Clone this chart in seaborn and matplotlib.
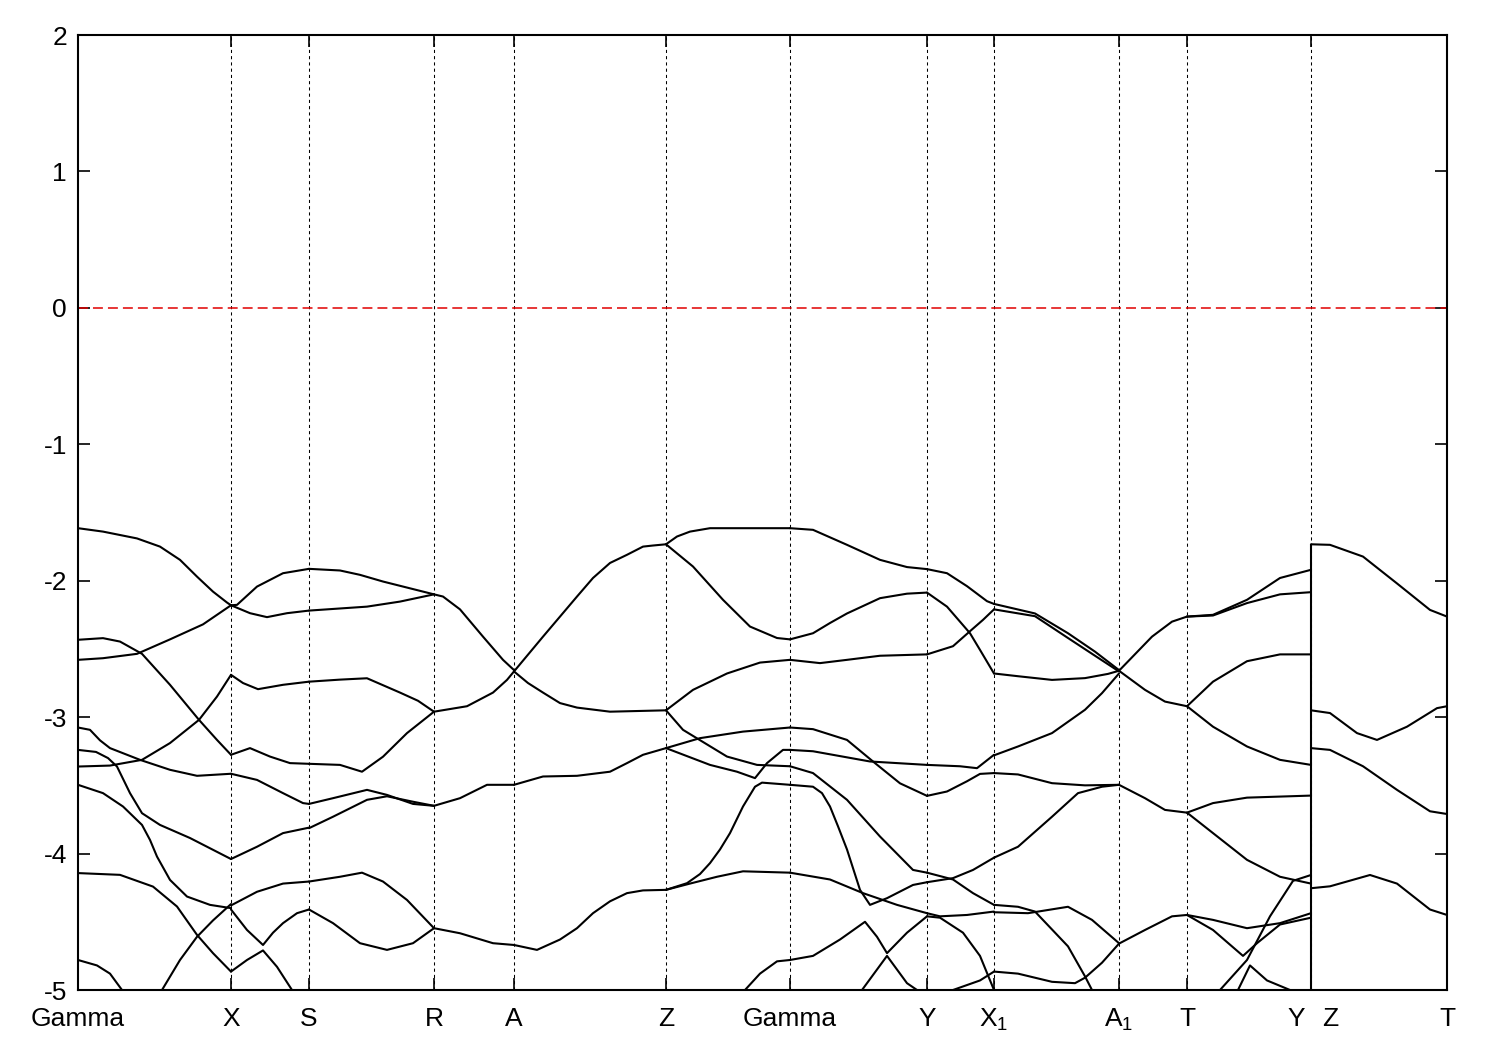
import matplotlib
matplotlib.use("Agg")
import matplotlib.pyplot as plt
import matplotlib.transforms as mtransforms
import seaborn as sns
import pandas as pd

# ---------------- data (k in path units, E in eV) ----------------
KPOS = [0, 1.53, 2.31, 3.56, 4.36, 5.88, 7.12, 8.49, 9.16, 10.41, 11.09, 12.33, 13.69]
KLABELS = ["Gamma", "X", "S", "R", "A", "Z", "Gamma", "Y", r"X$_\mathrm{1}$",
           r"A$_\mathrm{1}$", "T", "", "T"]
YZ_LABELS = ["Y", "Z"]
YTICKS = [-5, -4, -3, -2, -1, 0, 1, 2]
FERMI = 0.0
yz_jump = [-1.733, -5.0]

seg_GX = [
    ([0, 0.25, 0.59, 0.82, 1.02, 1.19, 1.35, 1.49, 1.53], [-1.615, -1.64, -1.69, -1.75, -1.847, -1.97, -2.08, -2.16, -2.18]),
    ([0, 0.25, 0.59, 0.92, 1.25, 1.49, 1.53], [-2.58, -2.568, -2.536, -2.43, -2.32, -2.20, -2.18]),
    ([0, 0.25, 0.42, 0.64, 0.92, 1.21, 1.39, 1.53], [-2.433, -2.421, -2.446, -2.536, -2.763, -3.02, -3.167, -3.276]),
    ([0, 0.32, 0.64, 0.92, 1.21, 1.39, 1.53], [-3.362, -3.355, -3.313, -3.19, -3.02, -2.849, -2.69]),
    ([0, 0.12, 0.22, 0.32, 0.62, 0.92, 1.19, 1.53], [-3.076, -3.093, -3.17, -3.227, -3.313, -3.386, -3.43, -3.415]),
    ([0, 0.18, 0.30, 0.39, 0.52, 0.64, 0.82, 1.12, 1.53], [-3.24, -3.255, -3.30, -3.362, -3.557, -3.704, -3.79, -3.886, -4.04]),
    ([0, 0.25, 0.45, 0.64, 0.72, 0.79, 0.92, 1.09, 1.32, 1.53], [-3.496, -3.557, -3.655, -3.79, -3.90, -4.022, -4.193, -4.315, -4.376, -4.40]),
    ([0, 0.42, 0.75, 0.99, 1.19, 1.35, 1.53], [-4.143, -4.156, -4.242, -4.388, -4.596, -4.73, -4.865]),
    ([0.84, 1.02, 1.19, 1.35, 1.53], [-5.0, -4.78, -4.61, -4.49, -4.37]),
    ([0, 0.19, 0.32, 0.44], [-4.78, -4.82, -4.88, -5.0]),
]
seg_XS = [
    ([1.53, 1.59, 1.79, 2.05, 2.31], [-2.18, -2.177, -2.043, -1.945, -1.913]),
    ([1.53, 1.72, 1.89, 2.09, 2.31], [-2.18, -2.238, -2.267, -2.238, -2.219]),
    ([1.53, 1.65, 1.80, 2.05, 2.31], [-2.69, -2.75, -2.795, -2.763, -2.74]),
    ([1.53, 1.72, 1.92, 2.12, 2.31], [-3.276, -3.227, -3.289, -3.337, -3.342]),
    ([1.53, 1.79, 2.05, 2.25, 2.31], [-3.415, -3.46, -3.557, -3.63, -3.636]),
    ([1.53, 1.79, 2.05, 2.31], [-4.04, -3.95, -3.85, -3.81]),
    ([1.53, 1.79, 2.05, 2.31], [-4.38, -4.28, -4.22, -4.205]),
    ([1.53, 1.69, 1.85, 1.95, 2.05, 2.19, 2.31], [-4.41, -4.56, -4.67, -4.58, -4.51, -4.437, -4.41]),
    ([1.53, 1.69, 1.85, 1.99, 2.14], [-4.865, -4.78, -4.71, -4.83, -5.0]),
]
seg_SR = [
    ([2.31, 2.62, 2.82, 3.05, 3.56], [-1.913, -1.925, -1.957, -2.006, -2.10]),
    ([2.31, 2.89, 3.22, 3.56], [-2.219, -2.19, -2.153, -2.10]),
    ([2.31, 2.62, 2.89, 3.22, 3.40, 3.56], [-2.74, -2.725, -2.715, -2.82, -2.88, -2.96]),
    ([2.31, 2.62, 2.84, 3.05, 3.29, 3.56], [-3.342, -3.35, -3.40, -3.29, -3.117, -2.96]),
    ([2.31, 2.55, 2.89, 3.09, 3.35, 3.56], [-3.636, -3.594, -3.533, -3.57, -3.636, -3.65]),
    ([2.31, 2.55, 2.89, 3.09, 3.35, 3.56], [-3.814, -3.73, -3.606, -3.58, -3.62, -3.65]),
    ([2.31, 2.62, 2.84, 3.05, 3.29, 3.56], [-4.205, -4.17, -4.14, -4.205, -4.34, -4.547]),
    ([2.31, 2.55, 2.82, 3.09, 3.35, 3.56], [-4.41, -4.51, -4.657, -4.706, -4.657, -4.547]),
]
seg_RA = [
    ([3.56, 3.65, 3.82, 4.05, 4.25, 4.36], [-2.10, -2.116, -2.21, -2.41, -2.58, -2.655]),
    ([3.56, 3.89, 4.15, 4.29, 4.36], [-2.96, -2.92, -2.82, -2.727, -2.665]),
    ([3.56, 3.82, 4.09, 4.36], [-3.65, -3.594, -3.496, -3.496]),
    ([3.56, 3.82, 4.15, 4.36], [-4.547, -4.584, -4.657, -4.67]),
]
seg_AZ = [
    ([4.36, 4.65, 4.82, 4.99, 5.15, 5.32, 5.49, 5.65, 5.75, 5.88], [-2.665, -2.41, -2.263, -2.116, -1.98, -1.87, -1.81, -1.75, -1.742, -1.733]),
    ([4.36, 4.50, 4.65, 4.82, 4.99, 5.32, 5.88], [-2.665, -2.75, -2.82, -2.897, -2.93, -2.96, -2.95]),
    ([4.36, 4.65, 4.99, 5.32, 5.49, 5.65, 5.88], [-3.496, -3.435, -3.43, -3.40, -3.337, -3.276, -3.227]),
    ([4.36, 4.59, 4.82, 4.99, 5.15, 5.32, 5.49, 5.65, 5.88], [-4.67, -4.706, -4.63, -4.547, -4.437, -4.35, -4.29, -4.27, -4.266]),
]
seg_ZG = [
    ([5.88, 5.99, 6.12, 6.32, 6.65, 7.12], [-1.733, -1.676, -1.64, -1.615, -1.615, -1.615]),
    ([5.88, 6.15, 6.45, 6.72, 6.99, 7.12], [-1.733, -1.896, -2.14, -2.336, -2.42, -2.43]),
    ([5.88, 6.15, 6.49, 6.82, 7.12], [-2.95, -2.80, -2.68, -2.60, -2.58]),
    ([5.88, 6.05, 6.49, 6.79, 7.12], [-2.95, -3.093, -3.289, -3.35, -3.36]),
    ([5.88, 6.22, 6.65, 7.12], [-3.227, -3.154, -3.106, -3.076]),
    ([5.88, 6.32, 6.59, 6.77, 6.89, 7.05, 7.12], [-3.227, -3.35, -3.40, -3.447, -3.337, -3.24, -3.24]),
    ([5.88, 6.12, 6.39, 6.65, 7.12], [-4.266, -4.22, -4.17, -4.13, -4.14]),
    ([5.88, 6.09, 6.22, 6.32, 6.42, 6.52, 6.65, 6.77, 6.84, 7.12], [-4.266, -4.217, -4.15, -4.07, -3.97, -3.85, -3.655, -3.51, -3.48, -3.496]),
    ([6.67, 6.82, 6.99, 7.12], [-5.0, -4.88, -4.79, -4.78]),
]
seg_GY = [
    ([7.12, 7.35, 7.69, 8.02, 8.29, 8.49], [-1.615, -1.627, -1.737, -1.847, -1.90, -1.915]),
    ([7.12, 7.35, 7.52, 7.69, 8.02, 8.29, 8.49], [-2.43, -2.385, -2.31, -2.24, -2.128, -2.095, -2.087]),
    ([7.12, 7.42, 7.69, 8.02, 8.49], [-2.58, -2.604, -2.58, -2.55, -2.54]),
    ([7.12, 7.35, 7.69, 7.95, 8.22, 8.49], [-3.076, -3.088, -3.167, -3.325, -3.485, -3.577]),
    ([7.12, 7.35, 7.92, 8.49], [-3.24, -3.25, -3.325, -3.35]),
    ([7.12, 7.35, 7.69, 8.02, 8.35, 8.49], [-3.36, -3.41, -3.606, -3.875, -4.12, -4.14]),
    ([7.12, 7.35, 7.44, 7.52, 7.60, 7.69, 7.82, 7.92, 8.09, 8.35, 8.49], [-3.496, -3.51, -3.557, -3.655, -3.80, -3.97, -4.266, -4.376, -4.327, -4.23, -4.21]),
    ([7.12, 7.52, 7.85, 8.19, 8.49], [-4.14, -4.19, -4.29, -4.376, -4.437]),
    ([7.12, 7.35, 7.62, 7.87, 7.99, 8.09, 8.29, 8.49], [-4.78, -4.75, -4.63, -4.50, -4.61, -4.73, -4.58, -4.46]),
    ([7.84, 8.09, 8.29, 8.39], [-5.0, -4.75, -4.95, -5.0]),
]
seg_YX1 = [
    ([8.49, 8.69, 8.89, 9.09, 9.16], [-1.915, -1.945, -2.04, -2.15, -2.17]),
    ([8.49, 8.69, 8.92, 9.02, 9.16], [-2.087, -2.19, -2.385, -2.507, -2.68]),
    ([8.49, 8.75, 8.92, 9.05, 9.16], [-2.54, -2.48, -2.37, -2.287, -2.21]),
    ([8.49, 8.69, 8.89, 9.02, 9.16], [-3.577, -3.545, -3.47, -3.416, -3.41]),
    ([8.49, 8.82, 8.99, 9.16], [-3.35, -3.36, -3.374, -3.276]),
    ([8.49, 8.75, 8.95, 9.16], [-4.14, -4.19, -4.29, -4.376]),
    ([8.49, 8.75, 8.95, 9.16], [-4.21, -4.18, -4.12, -4.03]),
    ([8.49, 8.62, 8.89, 9.16], [-4.437, -4.46, -4.45, -4.425]),
    ([8.49, 8.62, 8.85, 9.02, 9.16], [-4.46, -4.47, -4.58, -4.75, -5.0]),
    ([8.75, 9.02, 9.16], [-5.0, -4.93, -4.865]),
]
seg_X1A1 = [
    ([9.16, 9.57, 9.90, 10.17, 10.41], [-2.17, -2.24, -2.385, -2.52, -2.655]),
    ([9.16, 9.57, 9.90, 10.17, 10.41], [-2.21, -2.26, -2.42, -2.55, -2.665]),
    ([9.16, 9.40, 9.74, 10.07, 10.30, 10.41], [-2.68, -2.70, -2.727, -2.714, -2.683, -2.66]),
    ([9.16, 9.40, 9.74, 10.07, 10.24, 10.41], [-3.28, -3.215, -3.117, -2.946, -2.824, -2.68]),
    ([9.16, 9.40, 9.74, 10.07, 10.41], [-3.41, -3.42, -3.484, -3.50, -3.496]),
    ([9.16, 9.40, 9.74, 10.00, 10.24, 10.41], [-4.03, -3.95, -3.73, -3.557, -3.51, -3.496]),
    ([9.16, 9.40, 9.57, 9.90, 10.07, 10.14], [-4.376, -4.39, -4.425, -4.68, -4.90, -5.0]),
    ([9.16, 9.50, 9.90, 10.14, 10.41], [-4.43, -4.437, -4.39, -4.486, -4.657]),
    ([9.16, 9.40, 9.74, 9.97, 10.07, 10.24, 10.41], [-4.865, -4.88, -4.94, -4.95, -4.91, -4.80, -4.66]),
]
seg_A1T = [
    ([10.41, 10.74, 10.94, 11.09], [-2.66, -2.41, -2.30, -2.263]),
    ([10.41, 10.67, 10.87, 11.09], [-2.66, -2.80, -2.886, -2.92]),
    ([10.41, 10.67, 10.87, 11.09], [-3.496, -3.594, -3.68, -3.70]),
    ([10.41, 10.67, 10.94, 11.09], [-4.66, -4.56, -4.46, -4.45]),
]
seg_TY = [
    ([11.09, 11.35, 11.69, 12.02, 12.33], [-2.263, -2.25, -2.14, -1.98, -1.92]),
    ([11.09, 11.35, 11.69, 12.02, 12.33], [-2.263, -2.255, -2.164, -2.10, -2.084]),
    ([11.09, 11.35, 11.69, 12.02, 12.33], [-2.92, -2.74, -2.59, -2.54, -2.54]),
    ([11.09, 11.35, 11.69, 12.02, 12.33], [-2.92, -3.07, -3.215, -3.313, -3.35]),
    ([11.09, 11.35, 11.69, 12.33], [-3.70, -3.63, -3.59, -3.575]),
    ([11.09, 11.35, 11.69, 12.02, 12.33], [-3.70, -3.85, -4.046, -4.17, -4.22]),
    ([11.09, 11.35, 11.69, 12.02, 12.33], [-4.45, -4.486, -4.547, -4.51, -4.437]),
    ([11.09, 11.35, 11.65, 11.79, 12.02, 12.33], [-4.45, -4.56, -4.75, -4.657, -4.52, -4.47]),
    ([11.42, 11.69, 11.92, 12.15, 12.33], [-5.0, -4.78, -4.46, -4.20, -4.157]),
    ([11.60, 11.72, 11.89, 12.12], [-5.0, -4.82, -4.93, -5.0]),
]
seg_ZT = [
    ([12.33, 12.52, 12.85, 13.19, 13.52, 13.69], [-1.733, -1.737, -1.823, -2.02, -2.214, -2.263]),
    ([12.33, 12.52, 12.79, 12.99, 13.29, 13.59, 13.69], [-2.95, -2.97, -3.117, -3.167, -3.07, -2.934, -2.92]),
    ([12.33, 12.52, 12.85, 13.19, 13.52, 13.69], [-3.227, -3.24, -3.36, -3.533, -3.69, -3.71]),
    ([12.33, 12.52, 12.92, 13.19, 13.52, 13.69], [-4.254, -4.24, -4.157, -4.22, -4.41, -4.45]),
]
SEGMENTS = [seg_GX, seg_XS, seg_SR, seg_RA, seg_AZ, seg_ZG, seg_GY,
            seg_YX1, seg_X1A1, seg_A1T, seg_TY, seg_ZT]

# ---------------- build long table ----------------
rows = []
cid = 0
for seg in SEGMENTS:
    for ks, es in seg:
        for k, e in zip(ks, es):
            rows.append({"k": k, "E": e, "curve": cid})
        cid += 1
df = pd.DataFrame(rows)

# ---------------- plot ----------------
sns.set_theme(style="ticks")
plt.rcParams["font.family"] = ["Liberation Sans", "DejaVu Sans"]
plt.rcParams["text.color"] = "black"
plt.rcParams["mathtext.fontset"] = "custom"
plt.rcParams["mathtext.rm"] = "Liberation Sans"
plt.rcParams["mathtext.it"] = "Liberation Sans:italic"

FS = 19

fig = plt.figure(figsize=(15, 10.5), dpi=100)
ax = fig.add_axes([78 / 1500, 1 - 990 / 1050, 1369 / 1500, 955 / 1050])

for k in KPOS[1:-1]:
    ax.axvline(k, color="black", lw=0.75, ls=(0, (3, 3)), zorder=1)
ax.axhline(FERMI, color="#e00000", lw=1.1, ls=(0, (6.5, 3.3)), zorder=2)

sns.lineplot(data=df, x="k", y="E", units="curve", estimator=None, sort=False,
             color="black", linewidth=1.5, ax=ax, legend=False, zorder=3)
ax.vlines(KPOS[11], yz_jump[1], yz_jump[0], color="black", lw=1.5, zorder=3)

ax.set_xlim(KPOS[0], KPOS[-1])
ax.set_ylim(-5, 2)
ax.set_xticks(KPOS)
ax.set_xticklabels(KLABELS)
ax.set_yticks(YTICKS)
ax.set_yticklabels([str(v) for v in YTICKS])
ax.set_xlabel("")
ax.set_ylabel("")
ax.tick_params(axis="both", direction="in", length=8.6, width=1.2, color="black",
               labelsize=FS, top=True, right=True, labelcolor="black")
ax.tick_params(axis="x", pad=12)
ax.tick_params(axis="y", pad=8)
for sp in ax.spines.values():
    sp.set_linewidth(1.5)
    sp.set_color("black")

trans = mtransforms.offset_copy(ax.get_xaxis_transform(), fig=fig, x=0, y=-12, units="points")
ax.text(KPOS[11] - 0.15, 0, YZ_LABELS[0], transform=trans, ha="center", va="top",
        fontsize=FS, color="black")
ax.text(KPOS[11] + 0.19, 0, YZ_LABELS[1], transform=trans, ha="center", va="top",
        fontsize=FS, color="black")

fig.savefig("out.png", dpi=100, facecolor="white")
